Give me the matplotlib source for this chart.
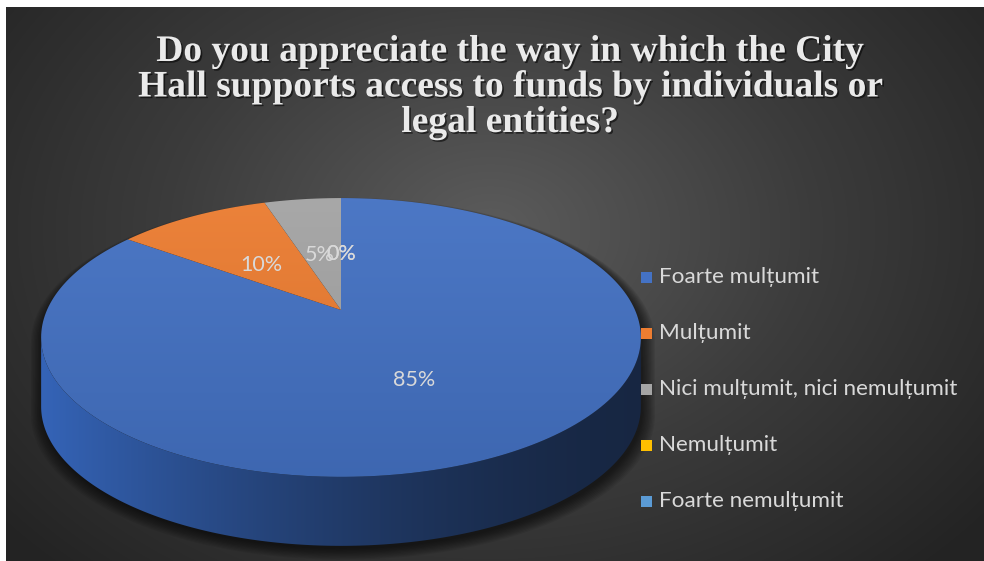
import numpy as np
import matplotlib
matplotlib.use("Agg")
import matplotlib.pyplot as plt
import matplotlib.colors as mcolors
import matplotlib.patheffects as pe
from matplotlib.patches import Polygon, Rectangle

# ---------------------------------------------------------------------------
# Data
# ---------------------------------------------------------------------------
categories = [
    "Foarte mulțumit",
    "Mulțumit",
    "Nici mulțumit, nici nemulțumit",
    "Nemulțumit",
    "Foarte nemulțumit",
]
shares = [85, 10, 5, 0, 0]
slice_colors = ["#4472C4", "#ED7D31", "#A5A5A5", "#FFC000", "#5B9BD5"]
title_lines = [
    "Do you appreciate the way in which the City",
    "Hall supports access to funds by individuals or",
    "legal entities?",
]

W, H = 984, 561
TEXT_COLOR = "#d9d9d9"
SANS = ["Lato", "DejaVu Sans"]

# pie geometry (pixel space, y grows downwards)
CX, CY = 341, 310
RX, RY, PERSP = 294, 134, 0.197
DEPTH = 69


def proj(theta, r=1.0):
    """Project an angle (radians, clockwise from 12 o'clock) onto the tilted disc."""
    u = r * np.sin(theta)
    v = -r * np.cos(theta)
    s = 1.0 / (1.0 - PERSP * v)
    return CX + RX * u * s, CY + RY * v * s


def arc(t0, t1, dy=0.0, n=240):
    t = np.radians(np.linspace(t0, t1, n))
    x, y = proj(t)
    return np.column_stack([x, y + dy])


def gradient_fill(ax, verts, c0, c1, extent, horizontal, zorder, curve=None):
    patch = Polygon(verts, closed=True, facecolor="none", edgecolor="none", zorder=zorder)
    ax.add_patch(patch)
    t = np.linspace(0, 1, 256)
    if curve is not None:
        t = curve(t)
    cols = np.outer(1 - t, c0) + np.outer(t, c1)
    img = cols[np.newaxis, :, :] if horizontal else cols[:, np.newaxis, :]
    im = ax.imshow(np.clip(img, 0, 1), extent=extent, origin="upper",
                   interpolation="bilinear", aspect="auto", zorder=zorder)
    im.set_clip_path(patch)


fig = plt.figure(figsize=(W / 100, H / 100), dpi=100, facecolor="white")
ax = fig.add_axes([0, 0, 1, 1])
ax.axis("off")

# ---- background: radial dark-grey gradient --------------------------------
yy, xx = np.mgrid[7:H, 6:W]
dist = np.clip(np.hypot((xx - 490) / 640.0, (yy - 230) / 470.0), 0, 1)
bg_cmap = mcolors.LinearSegmentedColormap.from_list("bg", ["#5c5c5c", "#3c3c3c", "#232323"])
ax.imshow(dist, cmap=bg_cmap, vmin=0, vmax=1, extent=(6, W, H, 7),
          origin="upper", interpolation="bilinear", aspect="auto", zorder=0)

# ---- slice angles -----------------------------------------------------------
bounds = np.concatenate([[0], np.cumsum(shares)]) * 360.0 / sum(shares)
vis0 = np.degrees(np.arccos(-PERSP))
vis1 = 360.0 - vis0

# ---- soft shadow under the disc --------------------------------------------
outline = np.vstack([arc(vis1, 360 + vis0), arc(vis0, vis1, dy=DEPTH)])
ocx, ocy = outline.mean(axis=0)
for i in range(10):
    grow = 1.0 + 0.0045 * i
    shade = np.column_stack([(outline[:, 0] - ocx) * grow + ocx + 2,
                             (outline[:, 1] - ocy) * grow + ocy + 3 + 0.4 * i])
    ax.add_patch(Polygon(shade, closed=True, facecolor="black", edgecolor="none",
                         alpha=0.07, zorder=1))

# ---- side walls (front half only) -----------------------------------------
side_ext = (CX - RX * 1.03, CX + RX * 1.03, CY + RY * 1.3 + DEPTH, CY - 10)
for k, col in enumerate(slice_colors):
    t0, t1 = bounds[k], bounds[k + 1]
    lo, hi = max(t0, vis0), min(t1, vis1)
    if hi <= lo:
        continue
    verts = np.vstack([arc(lo, hi), arc(hi, lo, dy=DEPTH)])
    base = np.array(mcolors.to_rgb(col))
    left = np.clip(base * np.array([0.78, 0.88, 0.94]), 0, 1)
    gradient_fill(ax, verts, left, base * 0.34, side_ext, True, 2,
                  curve=lambda t: 1 - (1 - t) ** 1.6)

# ---- top faces ---------------------------------------------------------------
top_ext = (CX - RX * 1.03, CX + RX * 1.03, CY + RY * 1.3, CY - RY)
for k, col in enumerate(slice_colors):
    t0, t1 = bounds[k], bounds[k + 1]
    if t1 - t0 <= 0:
        continue
    verts = np.vstack([[CX, CY], arc(t0, t1)])
    base = np.array(mcolors.to_rgb(col))
    gradient_fill(ax, verts, base * 0.95 + 0.05, base * 0.9, top_ext, False, 3)

# ---- data labels -------------------------------------------------------------
for k, val in enumerate(shares):
    mid = np.radians((bounds[k] + bounds[k + 1]) / 2)
    lx, ly = proj(mid, 0.5)
    ax.text(lx, ly + 5, f"{val}%", ha="center", va="center", fontsize=15.5,
            color=TEXT_COLOR, family=SANS, zorder=5)

# ---- title -------------------------------------------------------------------
for i, line in enumerate(title_lines):
    ax.text(510, 61 + 35.5 * i, line, ha="center", va="baseline",
            fontsize=27, fontweight="bold", family="Liberation Serif",
            color="#eaeaea", zorder=6,
            path_effects=[pe.withSimplePatchShadow(offset=(1.2, -1.2),
                                                   shadow_rgbFace="black", alpha=0.55)])

# ---- legend ------------------------------------------------------------------
for i, (name, col) in enumerate(zip(categories, slice_colors)):
    y = 277 + 56 * i
    ax.add_patch(Rectangle((641, y - 5.5), 11, 11, facecolor=col, edgecolor="none", zorder=6))
    ax.text(659, y, name, ha="left", va="center", fontsize=16.2,
            color=TEXT_COLOR, family=SANS, zorder=6)

ax.set_xlim(0, W)
ax.set_ylim(H, 0)
fig.savefig("out.png", dpi=100, facecolor="white")
